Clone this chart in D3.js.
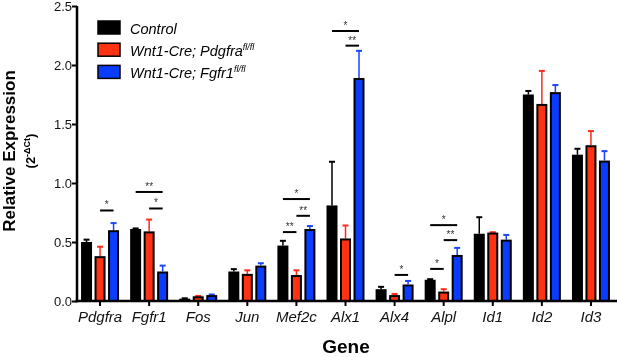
<!DOCTYPE html>
<html>
<head>
<meta charset="utf-8">
<style>
  body { margin: 0; background: #fff; }
  svg { display: block; font-family: Arial, "Liberation Sans", Helvetica, sans-serif; will-change: transform; }
</style>
</head>
<body>
<svg id="chart" width="617" height="357"></svg>
<script src="https://d3js.org/d3.v7.min.js"></script>
<script>
// data
const genes = ['Pdgfra', 'Fgfr1', 'Fos', 'Jun', 'Mef2c', 'Alx1', 'Alx4', 'Alpl', 'Id1', 'Id2', 'Id3'];
const seriesKeys = ['control', 'pdgfra', 'fgfr1'];
const controlMean = [0.50, 0.61, 0.02, 0.25, 0.47, 0.81, 0.10, 0.18, 0.57, 1.75, 1.24];
const controlErr  = [0.02, 0.005, 0.003, 0.02, 0.04, 0.37, 0.02, 0.005, 0.14, 0.03, 0.05];
const pdgfraMean  = [0.38, 0.59, 0.04, 0.23, 0.22, 0.53, 0.05, 0.08, 0.58, 1.67, 1.32];
const pdgfraErr   = [0.08, 0.10, 0.003, 0.03, 0.04, 0.11, 0.01, 0.02, 0.003, 0.28, 0.12];
const fgfr1Mean   = [0.60, 0.25, 0.05, 0.30, 0.61, 1.89, 0.14, 0.39, 0.52, 1.77, 1.19];
const fgfr1Err    = [0.06, 0.05, 0.005, 0.02, 0.025, 0.23, 0.03, 0.06, 0.04, 0.06, 0.08];
const yTicks = [0, 0.5, 1.0, 1.5, 2.0, 2.5];
// significance brackets: gene, from series, to series, height, label
const sigGene  = ['Pdgfra', 'Fgfr1', 'Fgfr1', 'Mef2c', 'Mef2c', 'Mef2c', 'Alx1', 'Alx1', 'Alx4', 'Alpl', 'Alpl', 'Alpl'];
const sigFrom  = [1, 0, 1, 0, 1, 0, 0, 1, 1, 0, 1, 0];
const sigTo    = [2, 2, 2, 2, 2, 1, 2, 2, 2, 2, 2, 1];
const sigY     = [0.767, 0.924, 0.784, 0.864, 0.722, 0.584, 2.288, 2.164, 0.221, 0.643, 0.516, 0.272];
const sigLabel = ['*', '**', '*', '*', '**', '**', '*', '**', '*', '*', '**', '*'];

const means = [controlMean, pdgfraMean, fgfr1Mean];
const errs = [controlErr, pdgfraErr, fgfr1Err];
const colors = ['#000000', '#ff3311', '#0a3cff'];
const errColors = ['#000000', '#ff2a1a', '#1a44ff'];

const svg = d3.select('#chart');

const x = d3.scaleBand().domain(genes).range([75.5, 615.5]);
const xs = d3.scalePoint().domain(seriesKeys).range([-13.5, 13.5]);
const y = d3.scaleLinear().domain([0, 2.5]).range([301, 6]);
const cx = g => x(g) + x.bandwidth() / 2;

// bars
const barW = 9;
const bars = [];
genes.forEach((g, i) => {
  seriesKeys.forEach((k, s) => {
    bars.push({gene: g, key: k, s: s, v: means[s][i], e: errs[s][i]});
  });
});

// error bars (upwards only)
const eb = svg.append('g').selectAll('g').data(bars).join('g');
eb.append('line')
  .attr('x1', d => cx(d.gene) + xs(d.key))
  .attr('x2', d => cx(d.gene) + xs(d.key))
  .attr('y1', d => y(d.v))
  .attr('y2', d => y(d.v + d.e))
  .attr('stroke', d => errColors[d.s])
  .attr('stroke-width', 1.5);
eb.append('line')
  .attr('x1', d => cx(d.gene) + xs(d.key) - 3)
  .attr('x2', d => cx(d.gene) + xs(d.key) + 3)
  .attr('y1', d => y(d.v + d.e))
  .attr('y2', d => y(d.v + d.e))
  .attr('stroke', d => errColors[d.s])
  .attr('stroke-width', 2);

svg.append('g').selectAll('rect').data(bars).join('rect')
  .attr('x', d => cx(d.gene) + xs(d.key) - barW / 2)
  .attr('y', d => y(d.v) + 1)
  .attr('width', barW)
  .attr('height', d => Math.max(0, y(0) - y(d.v) - 1))
  .attr('fill', d => colors[d.s])
  .attr('stroke', '#000')
  .attr('stroke-width', 2);

// significance lines
const sig = sigGene.map((g, i) => ({g, a: seriesKeys[sigFrom[i]], b: seriesKeys[sigTo[i]], v: sigY[i], t: sigLabel[i]}));
const sg = svg.append('g').attr('class', 'sig').selectAll('g').data(sig).join('g');
sg.append('line')
  .attr('x1', d => cx(d.g) + xs(d.a))
  .attr('x2', d => cx(d.g) + xs(d.b))
  .attr('y1', d => y(d.v))
  .attr('y2', d => y(d.v))
  .attr('stroke', '#000')
  .attr('stroke-width', 2);
sg.append('text')
  .attr('x', d => cx(d.g) + (xs(d.a) + xs(d.b)) / 2)
  .attr('y', d => y(d.v) - 2)
  .attr('text-anchor', 'middle')
  .attr('font-size', 10)
  .attr('fill', '#333')
  .text(d => d.t);

// y axis
const yAxis = d3.axisLeft(y).tickValues(yTicks).tickFormat(d3.format('.1f')).tickSize(5).tickSizeOuter(0);
const gy = svg.append('g').attr('transform', 'translate(77,0)').call(yAxis);
gy.select('.domain').attr('stroke-width', 2.5).attr('d', 'M0,' + (y(0) + 1.2) + 'V' + y(2.5));
gy.selectAll('.tick line').attr('stroke-width', 2);
gy.selectAll('.tick text').attr('font-size', 13).attr('fill', '#111').attr('x', -5).attr('font-family', 'Arial, "Liberation Sans", sans-serif');

// x axis
const xAxis = d3.axisBottom(x).tickSize(5).tickSizeOuter(0);
const gx = svg.append('g').attr('transform', 'translate(0,301)').call(xAxis);
gx.select('.domain').attr('stroke-width', 2.5).attr('d', 'M75.5,0H617');
gx.selectAll('.tick line').attr('stroke-width', 2);
gx.selectAll('.tick text').attr('font-size', 15).attr('font-style', 'italic').attr('fill', '#111')
  .attr('y', 10).attr('dy', '0.71em').attr('font-family', 'Arial, "Liberation Sans", sans-serif');

// axis titles
svg.append('text')
  .attr('x', 346).attr('y', 353)
  .attr('text-anchor', 'middle')
  .attr('font-size', 19).attr('font-weight', 'bold')
  .text('Gene');

const yt = svg.append('g').attr('transform', 'translate(15,151) rotate(-90)');
yt.append('text')
  .attr('text-anchor', 'middle')
  .attr('font-size', 17).attr('font-weight', 'bold')
  .text('Relative Expression');
const yt2 = yt.append('text')
  .attr('y', 20)
  .attr('text-anchor', 'middle')
  .attr('font-size', 13).attr('font-weight', 'bold');
yt2.append('tspan').text('(2');
yt2.append('tspan').attr('font-size', 9).attr('dy', -5).text('-ΔCt');
yt2.append('tspan').attr('dy', 5).text(')');

// legend
const legendLabels = [['Control', ''], ['Wnt1-Cre; Pdgfra', 'fl/fl'], ['Wnt1-Cre; Fgfr1', 'fl/fl']];
const lg = svg.append('g').selectAll('g').data(legendLabels).join('g')
  .attr('transform', (d, i) => 'translate(98,' + (21 + i * 22.2) + ')');
lg.append('rect')
  .attr('width', 22).attr('height', 13)
  .attr('fill', (d, i) => colors[i])
  .attr('stroke', '#000').attr('stroke-width', 1.5);
const lt = lg.append('text')
  .attr('x', 32).attr('y', 12.5)
  .attr('font-size', 14.5).attr('font-style', 'italic');
lt.append('tspan').text(d => d[0]);
lt.append('tspan').attr('font-size', 9).attr('dy', -6).text(d => d[1]);
</script>
</body>
</html>
